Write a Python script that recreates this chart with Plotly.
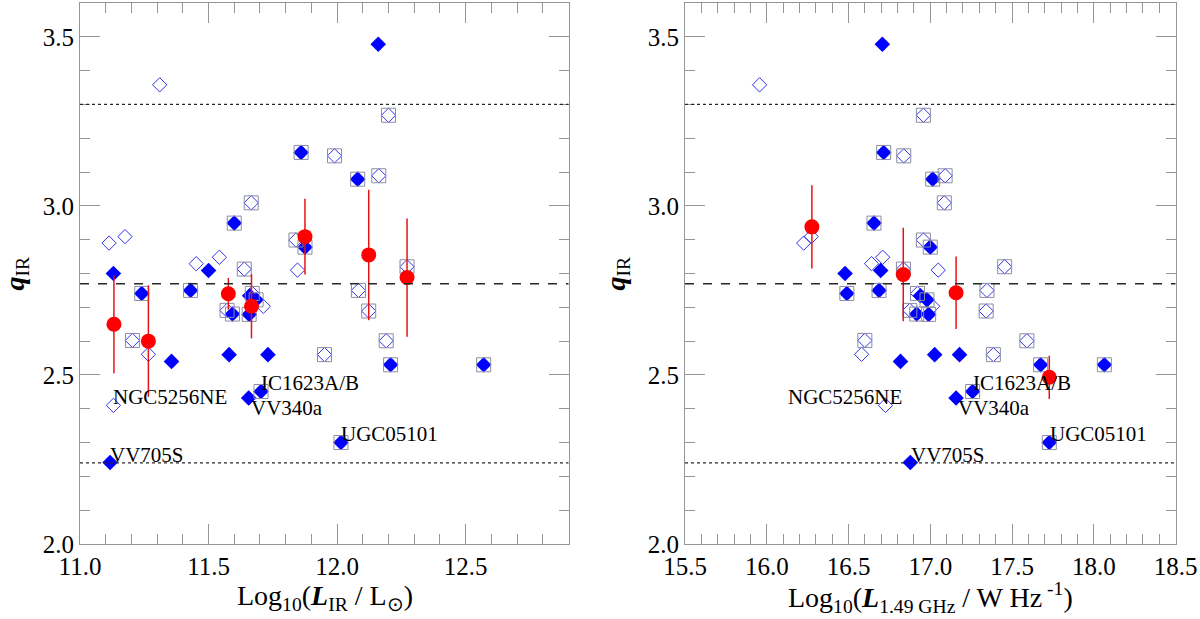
import plotly.graph_objects as go

# per-galaxy values (same galaxies in both panels)
q_ir = [3.478, 3.158, 3.079, 2.949, 2.878, 2.809, 2.800, 2.741, 2.750, 2.734, 2.722,
        2.680, 2.679, 2.540, 2.560, 2.560, 2.530, 2.530, 2.451, 2.432, 2.300, 2.241,
        3.358, 3.268, 3.148, 3.089, 3.009, 2.890, 2.909, 2.899, 2.810, 2.829, 2.848,
        2.813, 2.820, 2.750, 2.741, 2.703, 2.691, 2.689, 2.602, 2.561, 2.560, 2.601, 2.410]
log_lir = [12.160, 11.860, 12.080, 11.600, 11.875, 11.500, 11.130, 11.240, 11.430, 11.660, 11.685,
           11.593, 11.658, 11.356, 11.580, 11.731, 12.208, 12.570, 11.704, 11.656, 12.015, 11.117,
           11.310, 12.200, 11.990, 12.162, 11.666, 11.113, 11.175, 11.840, 11.846, 11.452, 11.542,
           11.639, 12.272, 12.083, 11.670, 11.713, 11.572, 12.123, 11.204, 11.266, 11.951, 12.191, 11.130]
log_l149 = [16.707, 16.715, 17.015, 16.656, 17.000, 16.697, 16.479, 16.490, 16.687, 16.940, 16.980,
            16.917, 16.990, 16.818, 17.027, 17.179, 17.675, 18.065, 17.259, 17.158, 17.728, 16.878,
            15.956, 16.958, 16.838, 17.091, 17.086, 16.226, 16.272, 16.958, 17.049, 16.641, 16.709,
            16.836, 17.455, 17.347, 16.922, 17.015, 16.875, 17.342, 16.600, 16.580, 17.386, 17.591, 16.726]
filled = [1] * 22 + [0] * 23
boxed = [0, 1, 1, 1, 1, 0, 0, 1, 1, 0, 1, 1, 1, 0, 0, 0, 1, 1, 1, 0, 1, 0,
         0, 1, 1, 1, 1, 0, 0, 1, 0, 0, 0, 1, 1, 1, 1, 0, 1, 1, 1, 0, 1, 1, 0]

# binned means
bin_lir = [11.132, 11.266, 11.577, 11.667, 11.875, 12.123, 12.272]
bin_q_lir = [2.650, 2.600, 2.740, 2.703, 2.909, 2.855, 2.788]
bin_err_lir = [0.145, 0.165, 0.047, 0.095, 0.112, 0.193, 0.175]
bin_l149 = [16.276, 16.835, 17.158, 17.728]
bin_q_l149 = [2.938, 2.797, 2.743, 2.493]
bin_err_l149 = [0.123, 0.138, 0.107, 0.064]

q_mean, q_lo, q_hi = 2.77, 2.24, 3.30

label_names = ['NGC5256NE', 'IC1623A/B', 'VV340a', 'UGC05101', 'VV705S']
label_x_lir = [11.130, 11.704, 11.665, 12.015, 11.117]
label_x_l149 = [16.130, 17.260, 17.169, 17.732, 16.885]
label_q = [2.410, 2.452, 2.380, 2.301, 2.240]

SERIF = 'Liberation Serif, Times New Roman, serif'
GRAY = 'rgb(150,150,150)'
BLUE = 'rgb(0,0,255)'

fig = go.Figure()


def add_panel(xs, xa, ya, bx, by, be):
    xf = [x for x, f in zip(xs, filled) if f]
    qf = [q for q, f in zip(q_ir, filled) if f]
    xo = [x for x, f in zip(xs, filled) if not f]
    qo = [q for q, f in zip(q_ir, filled) if not f]
    xb = [x for x, b in zip(xs, boxed) if b]
    qb = [q for q, b in zip(q_ir, boxed) if b]
    fig.add_trace(go.Scatter(x=xo, y=qo, mode='markers', xaxis=xa, yaxis=ya, showlegend=False,
                             marker=dict(symbol='diamond-open', size=11, color='rgb(50,50,235)',
                                         line=dict(width=1))))
    fig.add_trace(go.Scatter(x=xf, y=qf, mode='markers', xaxis=xa, yaxis=ya, showlegend=False,
                             marker=dict(symbol='diamond', size=12, color=BLUE, line=dict(width=0))))
    fig.add_trace(go.Scatter(x=xb, y=qb, mode='markers', xaxis=xa, yaxis=ya, showlegend=False,
                             marker=dict(symbol='square-open', size=14, color='rgb(140,140,165)',
                                         line=dict(width=1))))
    fig.add_trace(go.Scatter(x=bx, y=by, mode='markers', xaxis=xa, yaxis=ya, showlegend=False,
                             marker=dict(symbol='circle', size=15, color='rgb(255,0,0)'),
                             error_y=dict(type='data', array=be, color='rgb(230,20,20)',
                                          thickness=1.5, width=0)))
    xref = 'x' if xa == 'x' else 'x2'
    for q, dash, w in [(q_hi, 'dot', 1.2), (q_mean, 'dash', 1.5), (q_lo, 'dot', 1.2)]:
        fig.add_shape(type='line', xref=xref + ' domain', yref=ya, x0=0, x1=1, y0=q, y1=q,
                      line=dict(color='rgb(40,40,40)', width=w, dash=dash))


add_panel(log_lir, 'x', 'y', bin_lir, bin_q_lir, bin_err_lir)
add_panel(log_l149, 'x2', 'y2', bin_l149, bin_q_l149, bin_err_l149)

for name, xl, xr, q in zip(label_names, label_x_lir, label_x_l149, label_q):
    for xv, xr_ref, yr_ref in [(xl, 'x', 'y'), (xr, 'x2', 'y2')]:
        fig.add_annotation(x=xv, y=q, xref=xr_ref, yref=yr_ref, text=name, showarrow=False,
                           xanchor='left', yanchor='bottom', yshift=-6, xshift=-2,
                           font=dict(family=SERIF, size=21, color='black'))

axis_common = dict(showline=True, linecolor=GRAY, linewidth=1, mirror='ticks', ticks='inside',
                   ticklen=20, tickcolor=GRAY, showgrid=False, zeroline=False, automargin=False,
                   tickfont=dict(family=SERIF, size=25, color='black'), tickformat='.1f',
                   minor=dict(dtick=0.1, ticks='inside', ticklen=10, tickcolor=GRAY))

fig.update_layout(
    width=1200, height=619, plot_bgcolor='white', paper_bgcolor='white',
    margin=dict(l=0, r=0, t=3, b=75),
    xaxis=dict(domain=[80 / 1200, 568.5 / 1200], range=[11.0, 12.9], dtick=0.5, tick0=11.0,
               anchor='y', **axis_common),
    yaxis=dict(domain=[0, 1], range=[2.0, 3.6], dtick=0.5, tick0=2.0, anchor='x', **axis_common),
    xaxis2=dict(domain=[685 / 1200, 1175.5 / 1200], range=[15.5, 18.5], dtick=0.5, tick0=15.5,
                anchor='y2', **axis_common),
    yaxis2=dict(domain=[0, 1], range=[2.0, 3.6], dtick=0.5, tick0=2.0, anchor='x2', **axis_common),
)

title_font = dict(family=SERIF, size=28, color='black')
fig.add_annotation(x=325 / 1200, y=-53 / 541, xref='paper', yref='paper', showarrow=False,
                   xanchor='center', yanchor='middle', font=title_font,
                   text='Log<sub>10</sub>(<b><i>L</i></b><sub>IR</sub> / L<sub>⊙</sub>)')
fig.add_annotation(x=930 / 1200, y=-53 / 541, xref='paper', yref='paper', showarrow=False,
                   xanchor='center', yanchor='middle', font=title_font,
                   text='Log<sub>10</sub>(<b><i>L</i></b><sub>1.49 GHz</sub> / W Hz<sup> -1</sup>)')
for xp in [16 / 1200, 617 / 1200]:
    fig.add_annotation(x=xp, y=0.5, xref='paper', yref='paper', showarrow=False, textangle=-90,
                       xanchor='center', yanchor='middle', font=title_font,
                       text='<b><i>q</i></b><sub>IR</sub>')

# drop the page's default body margin so the figure sits at the window origin
fig.write_html('out.html', config={'displayModeBar': False},
               post_script="document.body.style.margin='0px';")
